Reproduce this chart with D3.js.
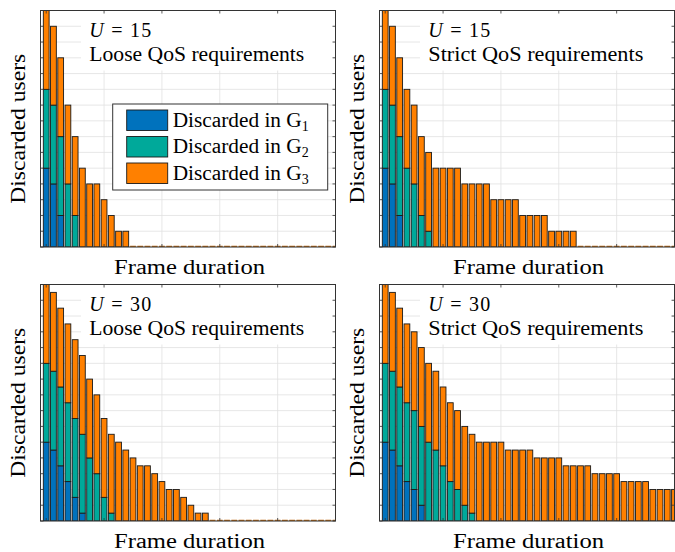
<!DOCTYPE html>
<html>
<head>
<meta charset="utf-8">
<script src="https://cdn.jsdelivr.net/npm/d3@7"></script>
<style>
body { margin: 0; background: #fff; }
svg text { font-family: "Liberation Serif", "Times New Roman", serif; fill: #000; }
</style>
</head>
<body>
<svg id="chart" width="675" height="552"></svg>
<script>
// discarded users per frame duration (41 frame durations)
var looseU15_G1 = [5,4,2,0,0,0,0,0,0,0, 0,0,0,0,0,0,0,0,0,0, 0,0,0,0,0,0,0,0,0,0, 0,0,0,0,0,0,0,0,0,0, 0];
var looseU15_G2 = [5,5,5,4,2,0,0,0,0,0, 0,0,0,0,0,0,0,0,0,0, 0,0,0,0,0,0,0,0,0,0, 0,0,0,0,0,0,0,0,0,0, 0];
var looseU15_G3 = [5,5,5,5,5,5,4,4,3,2, 1,1,0,0,0,0,0,0,0,0, 0,0,0,0,0,0,0,0,0,0, 0,0,0,0,0,0,0,0,0,0, 0];

var strictU15_G1 = [5,4,2,0,0,0,0,0,0,0, 0,0,0,0,0,0,0,0,0,0, 0,0,0,0,0,0,0,0,0,0, 0,0,0,0,0,0,0,0,0,0, 0];
var strictU15_G2 = [5,5,5,5,4,2,1,0,0,0, 0,0,0,0,0,0,0,0,0,0, 0,0,0,0,0,0,0,0,0,0, 0,0,0,0,0,0,0,0,0,0, 0];
var strictU15_G3 = [5,5,5,5,5,5,5,5,5,5, 5,4,4,4,4,3,3,3,3,2, 2,2,2,1,1,1,1,0,0,0, 0,0,0,0,0,0,0,0,0,0, 0];

var looseU30_G1 = [10,9,7,5,3,1,0,0,0,0, 0,0,0,0,0,0,0,0,0,0, 0,0,0,0,0,0,0,0,0,0, 0,0,0,0,0,0,0,0,0,0, 0];
var looseU30_G2 = [10,10,10,10,10,10,8,6,3,1, 0,0,0,0,0,0,0,0,0,0, 0,0,0,0,0,0,0,0,0,0, 0,0,0,0,0,0,0,0,0,0, 0];
var looseU30_G3 = [10,10,10,10,10,10,10,10,10,10, 10,9,8,7,7,6,5,4,4,3, 2,1,1,0,0,0,0,0,0,0, 0,0,0,0,0,0,0,0,0,0, 0];

var strictU30_G1 = [10,9,7,5,4,2,0,0,0,0, 0,0,0,0,0,0,0,0,0,0, 0,0,0,0,0,0,0,0,0,0, 0,0,0,0,0,0,0,0,0,0, 0];
var strictU30_G2 = [10,10,10,10,10,10,10,9,7,5, 4,2,1,0,0,0,0,0,0,0, 0,0,0,0,0,0,0,0,0,0, 0,0,0,0,0,0,0,0,0,0, 0];
var strictU30_G3 = [10,10,10,10,10,10,10,10,10,10, 10,10,10,10,10,10,10,9,9,9, 9,8,8,8,8,7,7,7,7,6, 6,6,6,5,5,5,5,4,4,4, 4];

var frameTicks = [1, 9, 17, 25, 33, 41];
var groupColors = ['#0072BD', '#00A99A', '#FF8000'];
var groupLabels = ['1', '2', '3'];

var svg = d3.select("#chart");
var fontSize = 20;

var panels = [
	{id: 'tl', left: 40.5, top: 10.5, users: 15, qos: 'Loose', groups: [looseU15_G1, looseU15_G2, looseU15_G3], legend: true},
	{id: 'tr', left: 379.5, top: 10.5, users: 15, qos: 'Strict', groups: [strictU15_G1, strictU15_G2, strictU15_G3], legend: false},
	{id: 'bl', left: 40.5, top: 284.5, users: 30, qos: 'Loose', groups: [looseU30_G1, looseU30_G2, looseU30_G3], legend: false},
	{id: 'br', left: 379.5, top: 284.5, users: 30, qos: 'Strict', groups: [strictU30_G1, strictU30_G2, strictU30_G3], legend: false}
];

var plotW = 295, plotH = 236.5;

panels.forEach(function(p) {
	var g = svg.append("g").attr("transform", "translate(" + p.left + "," + p.top + ")");

	var x = d3.scaleLinear().domain([0.21, 41]).range([0, plotW]);
	var y = d3.scaleLinear().domain([0, p.users]).range([plotH, 0]);
	var yTicks = d3.range(0, p.users + 0.001, p.users / 15);
	var bw = x(1.8) - x(1);

	g.append("clipPath").attr("id", "clip-" + p.id)
		.append("rect").attr("width", plotW).attr("height", plotH);

	// grid
	g.selectAll(".hgrid").data(yTicks).enter().append("line")
		.attr("x1", 0).attr("x2", plotW)
		.attr("y1", function(d) { return y(d); }).attr("y2", function(d) { return y(d); })
		.attr("stroke", "#e1e1e1").attr("stroke-width", 0.8);
	g.selectAll(".vgrid").data(frameTicks).enter().append("line")
		.attr("y1", 0).attr("y2", plotH)
		.attr("x1", function(d) { return x(d); }).attr("x2", function(d) { return x(d); })
		.attr("stroke", "#e1e1e1").attr("stroke-width", 0.8);

	// white box behind the annotation
	g.append("rect")
		.attr("x", 40.5).attr("y", 0)
		.attr("width", plotW - 43).attr("height", 60)
		.attr("fill", "#fff");

	// stacked bars
	var bars = g.append("g").attr("clip-path", "url(#clip-" + p.id + ")");
	p.groups[0].forEach(function(v, i) {
		var frame = i + 1;
		var base = 0;
		var total = p.groups[0][i] + p.groups[1][i] + p.groups[2][i];
		if (total === 0) {
			bars.append("line")
				.attr("x1", x(frame) - bw / 2).attr("x2", x(frame) + bw / 2)
				.attr("y1", y(0) - 0.5).attr("y2", y(0) - 0.5)
				.attr("stroke", "#c06a10").attr("stroke-width", 1.4);
			return;
		}
		p.groups.forEach(function(series, k) {
			var val = series[i];
			if (val > 0) {
				bars.append("rect")
					.attr("x", x(frame) - bw / 2)
					.attr("y", y(base + val))
					.attr("width", bw)
					.attr("height", y(base) - y(base + val))
					.attr("fill", groupColors[k])
					.attr("stroke", "#1a1a1a").attr("stroke-width", 0.9);
			}
			base += val;
		});
	});

	// ticks on all sides, pointing inwards
	var tl = 3;
	yTicks.forEach(function(d) {
		g.append("line").attr("x1", 0).attr("x2", tl).attr("y1", y(d)).attr("y2", y(d))
			.attr("stroke", "#333").attr("stroke-width", 0.8);
		g.append("line").attr("x1", plotW - tl).attr("x2", plotW).attr("y1", y(d)).attr("y2", y(d))
			.attr("stroke", "#333").attr("stroke-width", 0.8);
	});
	frameTicks.forEach(function(d) {
		g.append("line").attr("y1", 0).attr("y2", tl).attr("x1", x(d)).attr("x2", x(d))
			.attr("stroke", "#333").attr("stroke-width", 0.8);
		g.append("line").attr("y1", plotH - tl).attr("y2", plotH).attr("x1", x(d)).attr("x2", x(d))
			.attr("stroke", "#333").attr("stroke-width", 0.8);
	});

	g.append("rect")
		.attr("width", plotW).attr("height", plotH)
		.attr("fill", "none").attr("stroke", "#333").attr("stroke-width", 1);

	// annotation text
	var t1 = g.append("text").attr("x", 48.8).attr("y", 26.2).style("font-size", fontSize + "px")
		.attr("textLength", 62).attr("lengthAdjust", "spacing");
	t1.append("tspan").style("font-style", "italic").text("U");
	t1.append("tspan").text(" = " + p.users);
	g.append("text").attr("x", 48.8).attr("y", 50.5).style("font-size", fontSize + "px")
		.attr("textLength", 215).attr("lengthAdjust", "spacingAndGlyphs")
		.text(p.qos + " QoS requirements");

	// axis labels
	g.append("text")
		.attr("x", plotW / 2 + 1.5).attr("y", plotH + 26.5)
		.attr("text-anchor", "middle").style("font-size", fontSize + "px")
		.attr("textLength", 151).attr("lengthAdjust", "spacingAndGlyphs")
		.text("Frame duration");
	g.append("text")
		.attr("transform", "translate(-15.5," + (plotH / 2) + ") rotate(-90)")
		.attr("text-anchor", "middle").style("font-size", fontSize + "px")
		.attr("textLength", 150).attr("lengthAdjust", "spacingAndGlyphs")
		.text("Discarded users");

	if (p.legend) {
		var lg = g.append("g").attr("transform", "translate(72.2,93.5)");
		lg.append("rect").attr("width", 215).attr("height", 86)
			.attr("fill", "#fff").attr("stroke", "#333").attr("stroke-width", 1);
		groupLabels.forEach(function(lab, k) {
			var row = lg.append("g").attr("transform", "translate(14," + (6 + k * 26.5) + ")");
			row.append("rect").attr("width", 41).attr("height", 20.5)
				.attr("fill", groupColors[k]).attr("stroke", "#1a1a1a").attr("stroke-width", 0.9);
			var tx = row.append("text").attr("x", 46).attr("y", 16.5).style("font-size", fontSize + "px");
			tx.append("tspan").attr("textLength", 129).attr("lengthAdjust", "spacingAndGlyphs")
				.text("Discarded in G");
			tx.append("tspan").attr("dy", 4).style("font-size", "14px").text(lab);
		});
	}
});
</script>
</body>
</html>
